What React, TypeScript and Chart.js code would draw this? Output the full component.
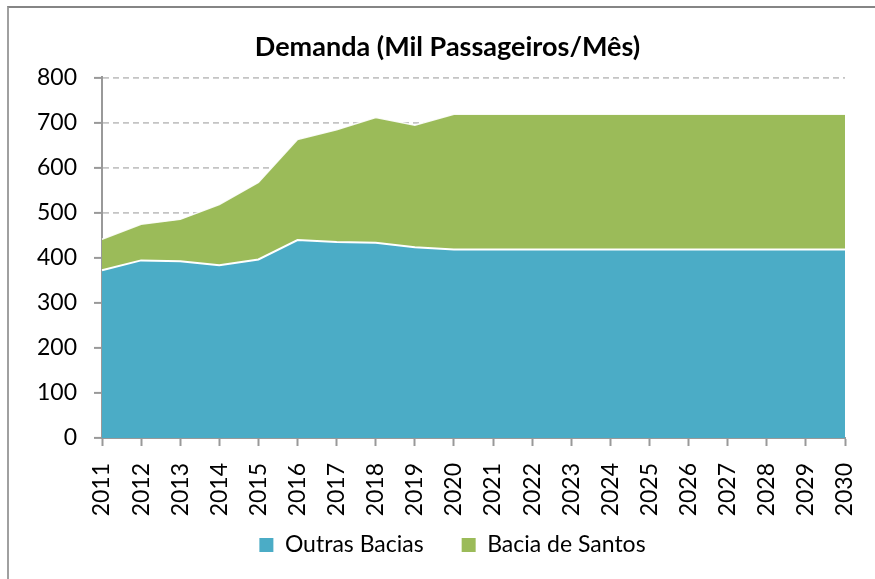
import React, { useEffect, useRef } from "react";
import { Chart, registerables } from "chart.js";

Chart.register(...registerables);

const years = [
  "2011", "2012", "2013", "2014", "2015", "2016", "2017", "2018", "2019", "2020",
  "2021", "2022", "2023", "2024", "2025", "2026", "2027", "2028", "2029", "2030",
];
const outrasBacias = [372, 394, 392, 383, 396, 439, 435, 433, 423, 418, 418, 418, 418, 418, 418, 418, 418, 418, 418, 418];
const baciaDeSantos = [69, 80, 93, 135, 171, 223, 249, 278, 271, 300, 300, 300, 300, 300, 300, 300, 300, 300, 300, 300];

const titleText = "Demanda (Mil Passageiros/Mês)";
const FONT = "Lato, 'Open Sans', sans-serif";

// shifts boxes so title/legend sit where they do in the reference
const shiftPlugin = {
  id: "shiftBoxes",
  afterLayout(chart: any) {
    const t = chart.titleBlock;
    if (t) {
      t.left += 25;
      t.right += 25;
    }
    const l = chart.legend;
    if (l) {
      l.left += 30;
      l.right += 30;
      l.top -= 27.5;
      l.bottom -= 27.5;
    }
  },
};

export default function App() {
  const ref = useRef<HTMLCanvasElement | null>(null);

  useEffect(() => {
    if (!ref.current) return;
    const chart = new Chart(ref.current, {
      type: "line",
      data: {
        labels: years,
        datasets: [
          {
            label: "Outras Bacias",
            data: outrasBacias,
            backgroundColor: "#4BACC6",
            borderColor: "#ffffff",
            borderWidth: 2,
            fill: "origin",
            pointRadius: 0,
            tension: 0,
          },
          {
            label: "Bacia de Santos",
            data: baciaDeSantos,
            backgroundColor: "#9BBB59",
            borderColor: "rgba(255,255,255,0.9)",
            borderWidth: 1.5,
            fill: "-1",
            pointRadius: 0,
            tension: 0,
          },
        ],
      },
      plugins: [shiftPlugin],
      options: {
        responsive: false,
        animation: false,
        devicePixelRatio: 1,
        layout: { padding: { left: 0, right: 30, top: 0, bottom: -15 } },
        plugins: {
          title: {
            display: true,
            text: titleText,
            color: "#000",
            font: { family: FONT, size: 27, weight: "bold", lineHeight: 1.2 },
            padding: { top: 31, bottom: 14 },
          },
          legend: {
            position: "bottom",
            labels: {
              color: "#000",
              font: { family: FONT, size: 23, lineHeight: 1.2 },
              boxWidth: 14,
              boxHeight: 14,
              padding: 38,
              generateLabels: (c: any) =>
                c.data.datasets.map((ds: any, i: number) => ({
                  text: ds.label,
                  fillStyle: ds.backgroundColor,
                  strokeStyle: ds.backgroundColor,
                  lineWidth: 0,
                  hidden: false,
                  datasetIndex: i,
                  fontColor: "#000",
                })),
            },
          },
          tooltip: { enabled: false },
        },
        scales: {
          x: {
            offset: false,
            grid: {
              display: true,
              drawOnChartArea: false,
              drawTicks: true,
              tickLength: 8,
              tickColor: "#999",
              tickWidth: 2,
            },
            border: { display: true, color: "#999", width: 2 },
            ticks: {
              color: "#000",
              font: { family: FONT, size: 23 },
              maxRotation: 90,
              minRotation: 90,
              autoSkip: false,
              padding: 17,
            },
            afterFit: (s: any) => {
              s.height = 85;
              s.paddingLeft = 0;
              s.paddingRight = 0;
            },
          },
          y: {
            stacked: true,
            min: 0,
            max: 800,
            grid: {
              color: (ctx: any) => (ctx.tick && ctx.tick.value === 0 ? "rgba(0,0,0,0)" : "#c4c4c4"),
              lineWidth: 1.8,
              drawTicks: true,
              tickLength: 8,
              tickColor: "#999",
              tickWidth: 2,
              tickBorderDash: [],
            },
            border: { display: true, color: "#999", width: 2, dash: [6, 4] },
            ticks: {
              stepSize: 100,
              color: "#000",
              font: { family: FONT, size: 23 },
              padding: 17,
            },
            afterFit: (s: any) => {
              s.width = 102;
            },
          },
        },
      },
    });
    return () => chart.destroy();
  }, []);

  return (
    <div style={{ position: "fixed", left: 0, top: 0, width: 875, height: 579, background: "#fff", overflow: "hidden" }}>
      <div
        style={{
          position: "absolute",
          left: 7,
          top: 6,
          width: 900,
          height: 600,
          borderTop: "2px solid #858585",
          borderLeft: "2px solid #a0a0a0",
        }}
      />
      <canvas ref={ref} width={875} height={579} style={{ position: "absolute", left: 0, top: 0 }} />
    </div>
  );
}
